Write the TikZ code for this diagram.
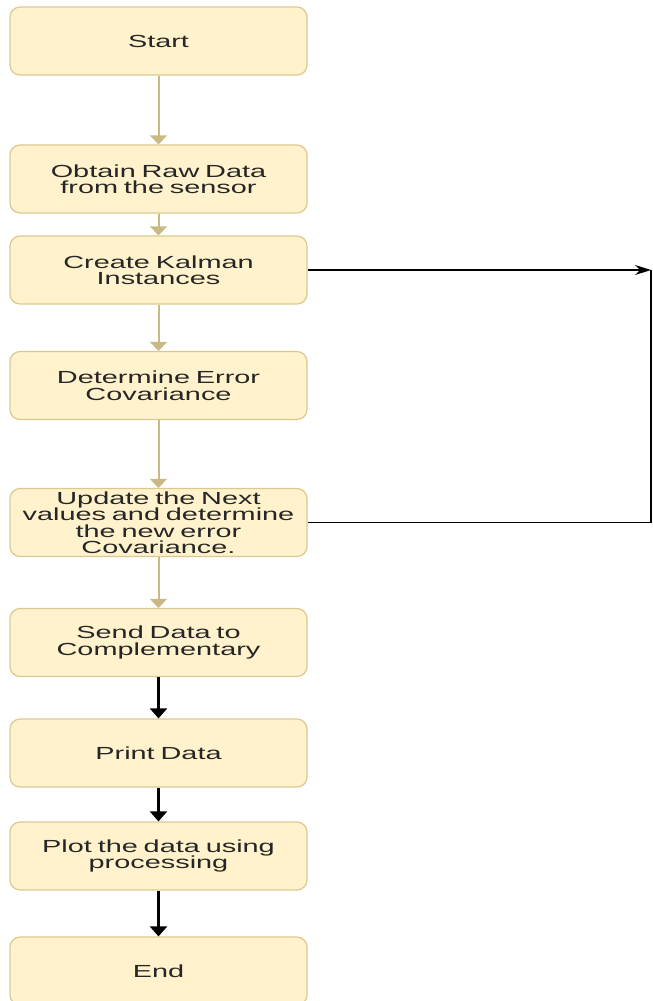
\documentclass[tikz,border=0pt]{standalone}
\usepackage{fontspec}
\setmainfont[FakeStretch=1.65]{Liberation Sans}
\usetikzlibrary{arrows.meta}
\definecolor{boxfill}{HTML}{FFF2CC}
\definecolor{boxline}{HTML}{DCC88F}
\definecolor{tanline}{HTML}{C9B985}
\begin{document}
\begin{tikzpicture}[x=1pt, y=-1pt,
  font=\fontsize{17.5}{16.5}\selectfont,
  bx/.style={draw=boxline, fill=boxfill, rounded corners=10pt, align=center,
             minimum width=297pt, minimum height=68pt, text width=292pt,
             inner sep=0pt, text=black!85, line width=1.2pt},
  tan/.style={draw=tanline, line width=2pt, -{Triangle[length=9pt,width=17pt]}},
  blk/.style={line width=2.2pt, -{Triangle[length=10pt,width=17pt]}},
  lp/.style={line width=1.2pt}]
\useasboundingbox (0,0) rectangle (653,1001);

% the steps, top to bottom
\node[bx] (start) at (158.5,41)  {Start};
\node[bx] (raw)   at (158.5,179) {Obtain Raw Data\\from the sensor};
\node[bx] (kal)   at (158.5,270) {Create Kalman\\Instances};
\node[bx] (cov)   at (158.5,385.5) {Determine Error\\Covariance};
\node[bx] (upd)   at (158.5,522.5) {Update the Next\\values and determine\\the new error\\Covariance.};
\node[bx] (send)  at (158.5,642.5) {Send Data to\\Complementary};
\node[bx] (prt)   at (158.5,753) {Print Data};
\node[bx] (plot)  at (158.5,856) {Plot the data using\\processing};
\node[bx] (fin)   at (158.5,971) {End};

% main flow
\draw[tan] (start.south) -- (raw.north);
\draw[tan] (raw.south) -- (kal.north);
\draw[tan] (kal.south) -- (cov.north);
\draw[tan] (cov.south) -- (upd.north);
\draw[tan] (upd.south) -- (send.north);
\draw[blk] (send.south) -- (prt.north);
\draw[blk] (prt.south) -- (plot.north);
\draw[blk] (plot.south) -- (fin.north);

% loop on the right
\coordinate (turn) at (651,270);
\draw[lp, -{Stealth[length=16pt,width=10pt]}] (kal.east) -- (turn);
\draw[lp] (upd.east) -| (turn);
\end{tikzpicture}
\end{document}
